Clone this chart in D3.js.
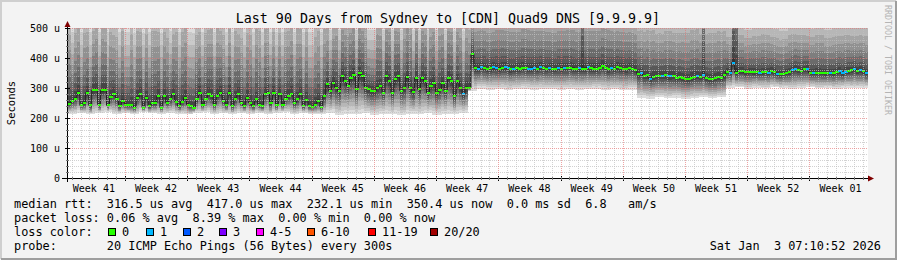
<!DOCTYPE html>
<html>
<head>
<meta charset="utf-8">
<script src="https://cdn.jsdelivr.net/npm/d3@7"></script>
<style>
body { margin: 0; background: #f3f3f3; }
svg text { font-family: "DejaVu Sans Mono", monospace; white-space: pre; }
</style>
</head>
<body>
<svg id="chart" width="897" height="260"></svg>
<script>
// median rtt in us, one value per 8 hour step (3 per day, 90 days)
var median = [
  248,258,265,285,242,250,285,242,293,295, 245,292,295,242,270,280,265,240,257,245,
  243,243,235,268,280,235,268,240,250,250, 273,235,273,251,262,279,255,240,255,268,
  245,240,235,262,285,245,262,280,273,245, 275,285,258,245,285,240,265,280,251,240,
  268,250,240,262,245,240,280,285,
  250,285,245,280,245,265,273,280,250,262, 280,240,260,240,238,245,257,238,273,312,
  290,318,301,290,340,323,307,334,345,296, 349,340,301,296,290,290,301,307,285,340,
  323,285,329,340,290,300,338,300,287,334, 296,334,323,285,307,318,285,295,318,290,
  334,323,273,323,300,280,301,
  300,412,
  367,365,369,367,363,366,369,366,365,368, 370,366,362,364,366,365,368,366,364,365,
  367,364,370,366,364,368,365,364,367,365, 367,366,368,365,364,366,364,365,369,366,
  365,364,366,375,367,362,367,364,369,366, 365,362,367,364,360,346,351,340,342,331,
  338,340,341,340,342,340,
  340,340,335,338,335,331,331,335,338,340, 338,342,334,331,329,333,337,334,342,355,
  351,385,351,356,356,352,353,354,353,353, 351,353,354,351,356,352,347,346,348,351,
  353,359,362,360,358,362,364,350,351,351, 351,350,349,351,351,349,354,356,349,355,
  357,359,362,357,359,357,350
];

// steps where one of the 20 pings was lost (median drawn blue)
var lossOneSteps = [133,138,139,143,144,147,148,150,155,156,157,159,162,165,167,172,175,183,
  193,196,200,202,203,212,214,223,224,233,236,239,244,245,249,251,257,260,261,262,265,267,269];

// smoke: lowest and highest ping per day, us
var pingMin = [
  215,218,212,216,220,214,217,213,219,216,214,218,215,212,217,219,214,216,213,218,
  215,217,212,216,219,214,217,215,213,218,210,214,212,216,211,215,213,209,214,212,
  216,211,214,213,218,
  290,298,295,297,294,296,298,295,297,296,294,297,295,296,298,294,296,293,295,
  268,265,270,266,268,264,267,269,266,270,
  300,302,298,301,299,303,300,298,301,302,299,300,297,301,299,300
];
var pingMax = [
  650,665,640,680,655,630,670,660,645,675,650,635,665,680,640,655,670,645,660,635,
  650,675,665,640,655,680,660,645,670,650,690,675,700,680,710,685,695,670,705,690,
  680,700,685,695,675,
  640,650,635,655,645,640,660,650,645,635,650,655,640,645,650,660,645,640,635,
  600,610,590,605,595,600,615,590,600,605,
  560,570,555,565,575,560,550,570,565,560,575,555,565,570,560,565
];
// pale night-time columns of the first six weeks and their highest ping
var paleSteps = [1,4,7,10,13,17,19,20,22,25,27,31,34,37,40,41,42,45,49,53,55,59,62,65,
  68,70,72,76,79,81,82,85,88,91,97,101,102,103,106,109,112,116,118,121,124,127,130,133];
var paleMax = 530;
// single columns where the smoke stays dark up to the top
var denseSteps = [173, 214, 224, 225];
var denseMax = 900;

var days = 90, stepsPerDay = 3;
var firstMonday = 6.41;   // day offset of the first week line
var yTicks = [0, 100, 200, 300, 400, 500];
var weekLabels = ["Week 41","Week 42","Week 43","Week 44","Week 45","Week 46","Week 47",
  "Week 48","Week 49","Week 50","Week 51","Week 52","Week 01"];

var lossLabels = ["0","1","2","3","4-5","6-10","11-19","20/20"];
var lossColors = ["#26ff00","#00b8ff","#0059ff","#7e00ff","#ff00ff","#ff5500","#ff0000","#a10000"];
var lossBoxX = [108,146,183,219,256,307,368,430];

var title = "Last 90 Days from Sydney to [CDN] Quad9 DNS [9.9.9.9]";
var legendLines = [
  "median rtt:  316.5 us avg  417.0 us max  232.1 us min  350.4 us now  0.0 ms sd  6.8   am/s",
  "packet loss: 0.06 % avg  8.39 % max  0.00 % min  0.00 % now",
  "loss color:",
  "probe:       20 ICMP Echo Pings (56 Bytes) every 300s"
];
var dateText = "Sat Jan  3 07:10:52 2026";

var svg = d3.select("#chart");
var pLeft = 68, pRight = 868, pTop = 28, pBottom = 178;

var x = d3.scaleLinear().domain([0, days]).range([pLeft, pRight]);
var y = d3.scaleLinear().domain([0, 500]).range([pBottom, pTop]);

// frame
svg.append("rect").attr("width", 897).attr("height", 260).attr("fill", "#f3f3f3");
svg.append("path").attr("d", "M1,259V1H896").attr("fill", "none").attr("stroke", "#cfcfcf").attr("stroke-width", 2);
svg.append("path").attr("d", "M1,259H896V1").attr("fill", "none").attr("stroke", "#9e9e9e").attr("stroke-width", 2);

svg.append("rect").attr("x", pLeft).attr("y", pTop).attr("width", pRight - pLeft).attr("height", pBottom - pTop)
  .attr("fill", "#ffffff");

svg.append("clipPath").attr("id", "plot").append("rect")
  .attr("x", pLeft).attr("y", pTop).attr("width", pRight - pLeft).attr("height", pBottom - pTop);

// smoke: 20 sorted pings per step, paired outside-in (smokeping style)
function pings(i) {
  var d = Math.floor(i / stepsPerDay), m = median[i];
  var hi = pingMax[d], ex = 1.5;
  if (paleSteps.indexOf(i) >= 0) hi = paleMax;
  if (denseSteps.indexOf(i) >= 0) { hi = denseMax; ex = 1.2; }
  var lo = Math.min(pingMin[d], m - 10);
  hi = Math.max(hi, m + 60);
  var cp = [];
  for (var k = 1; k <= 20; k++) {
    var t;
    if (k <= 10) { t = (10.5 - k) / 9.5; cp.push(m - (m - lo) * t); }
    else { t = (k - 10.5) / 9.5; cp.push(m + (hi - m) * Math.pow(t, ex)); }
  }
  return cp;
}
var smoke = [];
median.forEach(function(m, i) {
  var cp = pings(i);
  for (var b = 1; b <= 10; b++) smoke.push({ i: i, band: b, lo: cp[b - 1], hi: cp[20 - b] });
});

var g = svg.append("g").attr("clip-path", "url(#plot)");
function sx(i) { return x(i / stepsPerDay); }

g.selectAll("rect.smoke").data(smoke).join("rect")
  .attr("class", "smoke")
  .attr("x", function(d) { return sx(d.i); })
  .attr("width", function(d) { return sx(d.i + 1) - sx(d.i) + 0.3; })
  .attr("y", function(d) { return y(d.hi); })
  .attr("height", function(d) { return y(d.lo) - y(d.hi); })
  .attr("fill", function(d) {
    var c = Math.floor(190 / 10 * (10 - d.band)) + 50;
    return d3.rgb(c, c, c);
  })
  .attr("shape-rendering", "crispEdges");

// grid
var minorDays = d3.range(firstMonday - 6, days, 1);
var weekDays = d3.range(firstMonday, days, 7);
var minorVals = d3.range(20, 500, 20).filter(function(v) { return v % 100 != 0; });
function px(v) { return Math.round(v) + 0.5; }
var grid = svg.append("g").attr("shape-rendering", "crispEdges");
grid.selectAll("line.vmin").data(minorDays.filter(function(d, k) { return k % 7 != 6; }))
  .join("line").attr("class", "vmin")
  .attr("x1", function(d) { return px(x(d)); }).attr("x2", function(d) { return px(x(d)); })
  .attr("y1", pTop).attr("y2", pBottom)
  .attr("stroke", "rgba(191,191,191,0.7)").attr("stroke-dasharray", "1,1");
grid.selectAll("line.hmin").data(minorVals).join("line").attr("class", "hmin")
  .attr("x1", pLeft).attr("x2", pRight)
  .attr("y1", function(v) { return px(y(v)); }).attr("y2", function(v) { return px(y(v)); })
  .attr("stroke", "rgba(191,191,191,0.7)").attr("stroke-dasharray", "1,1");
grid.selectAll("line.vmaj").data(weekDays).join("line").attr("class", "vmaj")
  .attr("x1", function(d) { return px(x(d)); }).attr("x2", function(d) { return px(x(d)); })
  .attr("y1", pTop).attr("y2", pBottom)
  .attr("stroke", "rgba(230,115,115,0.65)").attr("stroke-dasharray", "1,1");
grid.selectAll("line.hmaj").data(yTicks.filter(function(v) { return v > 0; })).join("line").attr("class", "hmaj")
  .attr("x1", pLeft).attr("x2", pRight)
  .attr("y1", function(v) { return px(y(v)); }).attr("y2", function(v) { return px(y(v)); })
  .attr("stroke", "rgba(230,115,115,0.65)").attr("stroke-dasharray", "1,1");

// median line and loss coloured boxes
var stepLine = d3.line()
  .x(function(d, i) { return sx(i); })
  .y(function(d) { return y(d); })
  .curve(d3.curveStepAfter);
g.append("path").datum(median.concat([median[median.length - 1]]))
  .attr("d", stepLine).attr("fill", "none").attr("stroke", "#202020").attr("stroke-width", 1);

g.selectAll("rect.med").data(median).join("rect")
  .attr("class", "med")
  .attr("x", function(d, i) { return sx(i); })
  .attr("width", function(d, i) { return sx(i + 1) - sx(i) + 0.3; })
  .attr("y", function(d) { return y(d) - 1; })
  .attr("height", 2)
  .attr("fill", function(d, i) { return lossOneSteps.indexOf(i) >= 0 ? lossColors[1] : lossColors[0]; })
  .attr("shape-rendering", "crispEdges");

// axes
var ax = svg.append("g").attr("shape-rendering", "crispEdges");
ax.append("line").attr("x1", 62).attr("x2", 870).attr("y1", pBottom + 0.5).attr("y2", pBottom + 0.5).attr("stroke", "#000");
ax.append("line").attr("x1", pLeft - 0.5).attr("x2", pLeft - 0.5).attr("y1", 24).attr("y2", 182).attr("stroke", "#000");
svg.append("path").attr("d", "M868,175.5L874,178.5L868,181.5Z").attr("fill", "#800000");
svg.append("path").attr("d", "M64.5,27L67.5,21L70.5,27Z").attr("fill", "#800000");

ax.selectAll("line.xt").data(weekDays).join("line").attr("class", "xt")
  .attr("x1", function(d) { return px(x(d)); }).attr("x2", function(d) { return px(x(d)); })
  .attr("y1", pBottom - 2).attr("y2", pBottom + 3).attr("stroke", "#000");
ax.selectAll("line.xm").data(minorDays).join("line").attr("class", "xm")
  .attr("x1", function(d) { return px(x(d)); }).attr("x2", function(d) { return px(x(d)); })
  .attr("y1", pBottom - 1).attr("y2", pBottom + 2).attr("stroke", "#777");
ax.selectAll("line.yt").data(yTicks).join("line").attr("class", "yt")
  .attr("x1", pLeft - 3).attr("x2", pLeft + 2)
  .attr("y1", function(v) { return px(y(v)); }).attr("y2", function(v) { return px(y(v)); })
  .attr("stroke", "#000");
ax.selectAll("line.ym").data(minorVals).join("line").attr("class", "ym")
  .attr("x1", pLeft - 2).attr("x2", pLeft + 1)
  .attr("y1", function(v) { return px(y(v)); }).attr("y2", function(v) { return px(y(v)); })
  .attr("stroke", "#777");

svg.selectAll("text.yl").data(yTicks).join("text").attr("class", "yl")
  .attr("x", 60).attr("y", function(v) { return y(v) + 3.5; })
  .attr("text-anchor", "end").attr("font-size", "10px").attr("fill", "#000")
  .text(function(v) { return v == 0 ? "0" : v + " u"; });

svg.selectAll("text.xl").data(weekLabels).join("text").attr("class", "xl")
  .attr("x", function(d, i) { return x(firstMonday - 7 + i * 7 + 3.5); })
  .attr("y", 192).attr("text-anchor", "middle").attr("font-size", "10px").attr("fill", "#000")
  .text(function(d) { return d; });

svg.append("text").attr("transform", "translate(15,103) rotate(-90)")
  .attr("text-anchor", "middle").attr("font-size", "10.5px").attr("fill", "#000").text("Seconds");

svg.append("text").attr("x", 448).attr("y", 23).attr("text-anchor", "middle")
  .attr("font-size", "13.3px").attr("fill", "#000").text(title);

svg.append("text").attr("transform", "translate(885,5) rotate(90)")
  .attr("font-size", "8.3px").attr("fill", "#b4b4b4").text("RRDTOOL / TOBI OETIKER");

// legend
svg.selectAll("text.leg").data(legendLines).join("text").attr("class", "leg")
  .attr("x", 14).attr("y", function(d, i) { return 208 + i * 14; })
  .attr("font-size", "11.86px").attr("fill", "#000")
  .text(function(d) { return d; });

svg.selectAll("rect.lbox").data(lossColors).join("rect").attr("class", "lbox")
  .attr("x", function(d, i) { return lossBoxX[i] + 0.5; }).attr("y", 228.5)
  .attr("width", 7).attr("height", 7)
  .attr("fill", function(d) { return d; }).attr("stroke", "#000");
svg.selectAll("text.llab").data(lossLabels).join("text").attr("class", "llab")
  .attr("x", function(d, i) { return lossBoxX[i] + 14; }).attr("y", 236)
  .attr("font-size", "11.86px").attr("fill", "#000")
  .text(function(d) { return d; });

svg.append("text").attr("x", 881).attr("y", 250).attr("text-anchor", "end")
  .attr("font-size", "11.86px").attr("fill", "#000").text(dateText);
</script>
</body>
</html>
